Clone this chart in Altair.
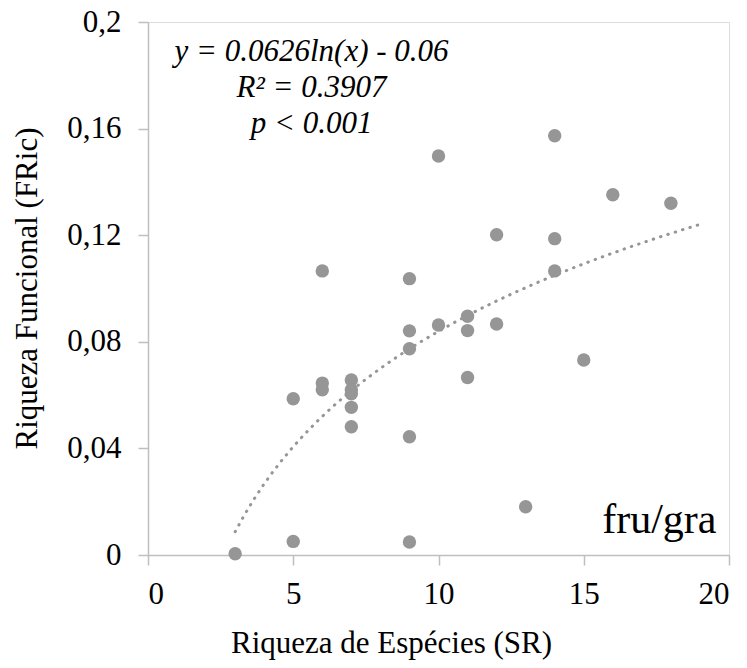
import altair as alt
import pandas as pd

# Species richness (SR) and functional richness (FRic)
sr = [3, 5, 5, 6, 6, 6, 7, 7, 7, 7, 7, 9, 9, 9, 9, 9, 10, 10, 11, 11, 11,
      12, 12, 13, 14, 14, 14, 15, 16, 18]
fric = [0.0005, 0.0051, 0.0586, 0.0620, 0.0645, 0.1066, 0.0657, 0.0620,
        0.0605, 0.0554, 0.0481, 0.0049, 0.0444, 0.0774, 0.0841, 0.1037,
        0.0863, 0.1497, 0.0896, 0.0842, 0.0666, 0.1202, 0.0867, 0.0181,
        0.1573, 0.1187, 0.1066, 0.0732, 0.1352, 0.1320]

x_ticks = [0, 5, 10, 15, 20]
y_ticks = [0, 0.04, 0.08, 0.12, 0.16, 0.2]

df = pd.DataFrame({"SR": sr, "FRic": fric})

GRAY = "#969696"
AXIS = "#bfbfbf"
FONT = "Liberation Serif"

xscale = alt.Scale(domain=[0, 20], nice=False, zero=False)
yscale = alt.Scale(domain=[0, 0.2], nice=False)

xaxis = alt.Axis(values=x_ticks, grid=False, domainColor=AXIS, tickColor=AXIS,
                 domainWidth=1.5, tickWidth=1.5, tickSize=10,
                 labelFont=FONT, labelFontSize=31, labelColor="black",
                 labelPadding=14, title="Riqueza de Espécies (SR)",
                 titleFont=FONT, titleFontSize=31, titleFontWeight="normal",
                 titleColor="black", titleX=243, titleY=97,
                 titleBaseline="alphabetic", titleAnchor="middle",
                 titleAlign="center")
yaxis = alt.Axis(values=y_ticks, grid=False, domainColor=AXIS, tickColor=AXIS,
                 domainWidth=1.5, tickWidth=1.5, tickSize=10,
                 labelFont=FONT, labelFontSize=31, labelColor="black",
                 labelPadding=17,
                 labelExpr="replace(format(datum.value, '~g'), '.', ',')",
                 title="Riqueza Funcional (FRic)",
                 titleFont=FONT, titleFontSize=31, titleFontWeight="normal",
                 titleColor="black", titleX=-112, titleY=266,
                 titleBaseline="alphabetic", titleAngle=-90, titleAlign="center")

base = alt.Chart(df)

points = base.mark_circle(size=180, color=GRAY, opacity=1).encode(
    x=alt.X("SR:Q", scale=xscale, axis=xaxis),
    y=alt.Y("FRic:Q", scale=yscale, axis=yaxis),
)

trend = base.transform_regression(
    "SR", "FRic", method="log", extent=[3, 19]
).mark_line(color=GRAY, strokeWidth=3, strokeDash=[0.5, 7.2],
            strokeCap="round").encode(
    x=alt.X("SR:Q", scale=xscale),
    y=alt.Y("FRic:Q", scale=yscale),
)

eq_lines = ["y = 0.0626ln(x) - 0.06", "R² = 0.3907", "p < 0.001"]
eq_y = [0.1852, 0.1717, 0.1583]

texts = []
for t, yy in zip(eq_lines, eq_y):
    texts.append(
        alt.Chart(pd.DataFrame({"t": [t]})).mark_text(
            font=FONT, fontSize=31, fontStyle="italic", align="center",
            baseline="alphabetic", color="black"
        ).encode(x=alt.datum(5.63), y=alt.datum(yy), text="t:N")
    )

label = alt.Chart(pd.DataFrame({"t": ["fru/gra"]})).mark_text(
    font=FONT, fontSize=42, align="right", baseline="alphabetic", color="black"
).encode(x=alt.datum(19.57), y=alt.datum(0.0083), text="t:N")

chart = alt.layer(trend, points, *texts, label).properties(
    width=581, height=533,
    autosize=alt.AutoSizeParams(type="none"),
    padding={"left": 148, "top": 22, "right": 18, "bottom": 113},
).configure_view(stroke=None).configure_axis(
    labelFont=FONT, titleFont=FONT
).configure(background="white")

chart.save("out.html", embed_options={"renderer": "svg", "actions": False})
